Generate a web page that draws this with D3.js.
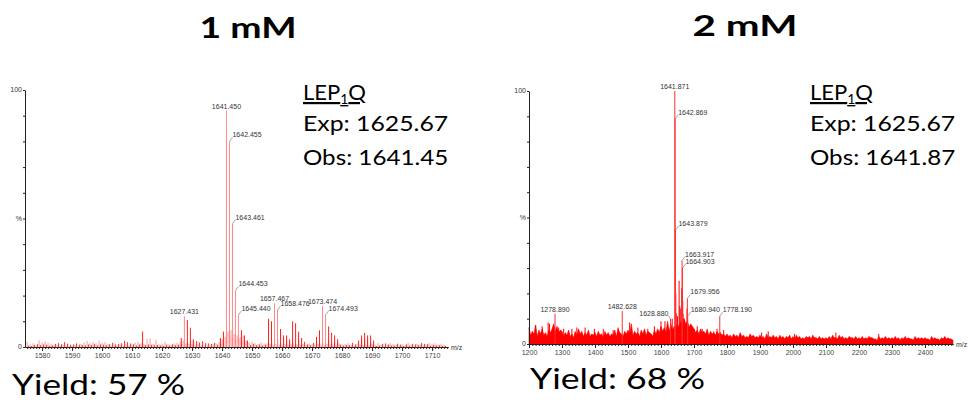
<!DOCTYPE html>
<html>
<head>
<meta charset="utf-8">
<script src="https://cdn.jsdelivr.net/npm/d3@7"></script>
<style>
  body { margin: 0; background: #fff; }
  .tick text { font-family: "Liberation Sans", Arial, sans-serif; font-size: 7px; fill: #444; }
  .axis path, .axis line { stroke: #222; }
  .plabel { font-family: "Liberation Sans", Arial, sans-serif; font-size: 7px; fill: #333; }
  .big { font-family: Lato, "Open Sans", sans-serif; fill: #000; }
</style>
</head>
<body>
<div id="chart"></div>
<script>
// ---- left spectrum (1 mM) ----
const ticksL = [1580, 1590, 1600, 1610, 1620, 1630, 1640, 1650, 1660, 1670, 1680, 1690, 1700, 1710];
const noiseStartL = 1575, noiseStepL = 0.5;
const noiseL = [
  2.0,0.5,1.0,0.4,1.4,0.8,0.5,1.1,2.6,0.7,1.8,1.0,2.2,0.9,1.7,0.5,1.3,0.6,0.9,1.2,
  0.7,1.5,0.4,1.1,0.8,1.9,0.5,1.3,0.3,0.9,0.6,1.0,0.8,1.4,0.4,0.9,1.2,0.7,1.8,0.6,
  2.3,1.0,1.5,0.8,2.0,1.1,1.4,0.6,2.5,1.0,1.7,0.9,1.9,0.7,1.3,1.1,0.5,1.6,0.8,1.0,
  0.6,1.2,0.9,1.5,0.5,2.4,1.0,1.9,0.7,1.4,0.9,1.1,1.7,0.6,2.1,1.0,1.5,1.3,1.0,0.8,
  3.2,1.0,3.4,0.9,1.2,0.7,2.8,0.8,1.0,0.6,1.3,0.5,2.0,0.9,1.1,0.6,0.8,1.0,1.4,0.7,
  1.6,0.9,2.2,1.1,2.5,1.0,1.4,2.0,1.2,2.6,1.0,2.4,0.9,2.3,1.1,1.8,0.8,2.2,0.7,1.5,
  0.8,1.4,0.6,1.2,1.0,1.6,1.3,0.9,2.0,1.1,3.0,1.5,4.0,5.5,6.0,4.5,6.5,3.5,5.0,3.0,
  4.5,3.0,3.8,2.5,4.2,1.5,2.5,1.0,1.8,0.8,2.0,1.2,1.5,0.7,1.2,1.0,1.8,0.6,1.4,0.9,
  1.5,2.0,1.2,2.6,0.9,2.2,1.1,2.8,1.0,1.6,0.8,3.0,1.2,2.4,0.9,1.8,1.1,2.0,0.7,1.2,
  1.0,2.5,0.9,1.4,1.2,2.0,0.8,1.0,1.4,0.7,1.1,1.6,0.9,2.2,1.2,1.8,1.0,2.0,0.8,1.5,
  1.2,2.6,1.0,1.8,0.9,2.0,0.7,1.5,1.3,0.9,1.0,0.6,1.2,0.8,1.5,0.7,0.9,1.6,0.5,1.0,
  1.3,2.5,1.0,3.0,0.8,2.8,0.9,2.6,0.7,2.0,1.2,0.5,0.8,0.4,1.5,0.6,0.9,1.2,0.5,1.4,
  0.8,1.0,1.4,0.6,1.2,0.5,1.0,1.3,0.6,0.9,1.1,0.4,0.8,1.0,1.6,0.5,0.9,1.2,0.6,1.0,
  1.3,0.7,1.0,1.5,0.6,1.2,0.9,1.1,1.6,0.5,1.2,0.8,1.4,0.6,1.0,0.7,1.3,0.5,0.9,0.4
];
const clusterL = [
  [1613.5,6],[1626.4,3.5],[1628.43,10.5],[1629.43,7.5],[1630.4,3],[1639.45,3.5],[1640.45,6],
  [1646.45,6.5],[1647.45,4.5],[1648.45,2.5],[1655.47,11],[1656.47,10],[1659.48,7],[1660.48,4.5],
  [1661.5,4.5],[1662.5,3],[1663.5,10],[1664.5,9.3],[1665.5,6],[1666.5,3.5],[1671.47,4],[1672.47,6.5],
  [1675.5,8],[1676.5,5.5],[1677.5,4.5],[1678.5,3],[1686.5,4.5],[1687.5,5.5],[1688.5,4.5],[1689.5,4.5],[1690.5,2.5]
];
const labelsL = ["1627.431","1641.450","1642.455","1643.461","1644.453","1645.440","1657.467","1658.476","1673.474","1674.493"];
const pctL    = [12, 92, 80, 48, 22, 12.5, 17, 14.4, 16, 12.5];
const textL = ["Exp: 1625.67", "Obs: 1641.45"];

// ---- right spectrum (2 mM) ----
const ticksR = [1200, 1300, 1400, 1500, 1600, 1700, 1800, 1900, 2000, 2100, 2200, 2300, 2400];
const noiseStartR = 1200, noiseStepR = 5;
const noiseR = [
  6.5,3.5,5,4,7.5,3,5.5,4,6,3.5,4.5,3,5.5,4.5,6,8,5,7,4.5,5.5,
  5,3,4.5,3.5,5.5,3,4,2.5,5,3.5,6,4,5,3,4.5,3.5,5.5,3,4,3.5,
  4.5,3,5,3.5,4,2.5,5,3.5,4.5,3,4,3.5,5.5,3,6,4.5,4,3,5,4,
  5.5,4,8,3.5,5,4,4.5,3,5.5,4,6,3.5,5,4.5,4,3,5.5,4,6,4.5,
  7,5,6.5,4.5,9,5,8,5.5,7,6,8,6.5,9,7,10,8,9,6.5,8,7,
  6,4.5,5.5,4,6,4.5,5,4,5.5,3.5,5,4,4.5,3.5,5,4,4.5,3.5,4,3,
  4,3,3.5,2.5,4,3,3.5,2.5,4.5,3,3.5,2.5,3,2.5,4,3,3.5,2.5,3,2.5,
  3.5,2.5,3,2,4,2.5,3,2.5,3.5,2.5,3,2,3.5,2.5,3,2,3,2.5,3.5,2,
  3,2,3.5,2.5,3,2,2.5,2,3,2.5,3,2,3.5,2.5,2.5,2,3,2,2.5,2,
  2.5,2,3,2,3.5,2.5,2.5,2,3.5,2.5,3,2,2.5,2,3,2.5,2.5,2,3,2,
  2.5,2,3,2,2.5,2,3,2.5,2.5,2,2,1.5,3,2,2.5,2,3,2,2.5,2,
  2.5,2,3,2,2.5,1.5,2.5,2,3,2,2.5,2,2,1.5,3,2,2.5,2,2.5,2,
  2.5,2,2,1.5,3,2,2.5,2,2,1.5,2.5,2,3,2,2.5,2,2,1.5
];
const spikesR = [
  [1220,7.5],[1240,7],[1258,8.5],[1262,8],[1290,6.5],[1305,6],[1330,6],[1345,6.5],[1370,6.5],
  [1398,6],[1425,6],[1455,5.5],[1470,6.5],[1505,8.5],[1530,6.5],[1560,6],[1580,7],[1600,9],
  [1612,9],[1620,7],[1634,10],[1644.88,20],[1645.9,12],[1650,11],[1654.9,25],[1657,15],[1660,14],
  [1662.9,22],[1665.9,17],[1666.9,12],[1670,10],[1678.9,14],[1681.9,8],[1684,7],[1690,6.5],
  [1700,6],[1710,7],[1725,6],[1740,6],[1760,5],[1770,6],[1790,5.5],[1905,4.5],[1925,5],
  [2005,4],[2130,4.5],[2260,4]
];
const labelsR = ["1278.890","1482.628","1628.880","1641.871","1642.869","1643.879","1663.917","1664.903","1679.956","1680.940","1778.190"];
const pctR    = [12, 13, 10, 100, 89, 45, 33, 30, 18, 11, 11];
const textR = ["Exp: 1625.67", "Obs: 1641.87"];

const W = 968, H = 403;
const svg = d3.select('#chart').append('svg').attr('width', W).attr('height', H);

// label placement (presentation only)
const topLabels = new Set(["1627.431","1641.450","1657.467","1673.474","1278.890","1482.628","1641.871"]);
const leftLabels = new Set(["1628.880"]);

function spectrum(cfg) {
  const x = d3.scaleLinear().domain(cfg.xDomain).range(cfg.xRange);
  const y = d3.scaleLinear().domain([0, 100]).range(cfg.yRange);
  const g = svg.append('g');
  const base = y(0);

  // noise
  const noisePts = cfg.noise.map((v, i) => [cfg.noiseStart + i * cfg.noiseStep, v]);
  if (cfg.noiseArea) {
    g.append('path')
      .datum(noisePts)
      .attr('fill', '#ff0000')
      .attr('stroke', '#ff0000')
      .attr('stroke-width', 0.6)
      .attr('d', d3.area().x(d => x(d[0])).y0(base).y1(d => y(d[1])));
  } else {
    g.selectAll('line.noise').data(noisePts).enter().append('line')
      .attr('class', 'noise')
      .attr('x1', d => x(d[0])).attr('x2', d => x(d[0]))
      .attr('y1', base).attr('y2', d => y(d[1]))
      .attr('stroke', (d, i) => i % 2 ? '#ff2a2a' : '#ff9a9a')
      .attr('stroke-width', 1);
  }

  // unlabeled peaks
  g.selectAll('line.extra').data(cfg.extra).enter().append('line')
    .attr('class', 'extra')
    .attr('x1', d => x(d[0])).attr('x2', d => x(d[0]))
    .attr('y1', base).attr('y2', d => y(d[1]))
    .attr('stroke', cfg.peakColor).attr('stroke-width', 1);

  // labeled peaks
  const lab = cfg.labels.map((l, i) => ({ l, mz: +l, pct: cfg.pct[i] }));
  g.selectAll('line.main').data(lab).enter().append('line')
    .attr('class', 'main')
    .attr('x1', d => x(d.mz)).attr('x2', d => x(d.mz))
    .attr('y1', base).attr('y2', d => y(d.pct))
    .attr('stroke', cfg.mainColor).attr('stroke-width', 1);

  lab.forEach(d => {
    const px = x(d.mz), py = y(d.pct);
    if (topLabels.has(d.l)) {
      g.append('text').attr('class', 'plabel')
        .attr('x', px).attr('y', py - 2).attr('text-anchor', 'middle').text(d.l);
    } else if (leftLabels.has(d.l)) {
      g.append('line').attr('x1', px).attr('y1', py).attr('x2', px - 2).attr('y2', py - 3)
        .attr('stroke', '#666').attr('stroke-width', 0.6);
      g.append('text').attr('class', 'plabel')
        .attr('x', px - 2).attr('y', py - 3).attr('text-anchor', 'end').text(d.l);
    } else {
      g.append('line').attr('x1', px).attr('y1', py).attr('x2', px + 3).attr('y2', py - 4)
        .attr('stroke', '#666').attr('stroke-width', 0.6);
      g.append('text').attr('class', 'plabel')
        .attr('x', px + 3).attr('y', py - 4).text(d.l);
    }
  });

  // x axis: minor + major
  g.append('g').attr('class', 'axis').attr('transform', `translate(0,${base})`)
    .call(d3.axisBottom(x).tickValues(cfg.minor).tickSize(2).tickSizeOuter(0).tickFormat(''));
  g.append('g').attr('class', 'axis').attr('transform', `translate(0,${base})`)
    .call(d3.axisBottom(x).tickValues(cfg.ticks).tickSize(4).tickSizeOuter(0).tickPadding(2).tickFormat(d3.format('d')));
  g.append('text').attr('class', 'plabel').attr('x', cfg.xRange[1] + 3).attr('y', base + 3).text('m/z');

  // y axis
  g.append('g').attr('class', 'axis').attr('transform', `translate(${cfg.xRange[0]},0)`)
    .call(d3.axisLeft(y).tickValues(d3.range(0, 101, 10)).tickSize(2).tickSizeOuter(0).tickFormat(''));
  [[100, '100'], [50, '%'], [0, '0']].forEach(([v, t]) => {
    g.append('text').attr('class', 'plabel')
      .attr('x', cfg.xRange[0] - 3).attr('y', y(v)).attr('dy', '0.35em')
      .attr('text-anchor', 'end').text(t);
  });
}

spectrum({
  xDomain: [1574.3, 1715.3], xRange: [25, 448], yRange: [347, 90],
  noise: noiseL, noiseStart: noiseStartL, noiseStep: noiseStepL, noiseArea: false,
  extra: clusterL, labels: labelsL, pct: pctL, ticks: ticksL,
  minor: d3.range(1575, 1716, 1), peakColor: '#ff2020', mainColor: '#ff8888'
});
spectrum({
  xDomain: [1200, 2485], xRange: [529, 953], yRange: [344, 91],
  noise: noiseR, noiseStart: noiseStartR, noiseStep: noiseStepR, noiseArea: true,
  extra: spikesR, labels: labelsR, pct: pctR, ticks: ticksR,
  minor: d3.range(1200, 2481, 10), peakColor: '#ff0000', mainColor: '#ff3030'
});

// titles and annotations
function bigText(x, y, size, weight, len, anchor, txt) {
  return svg.append('text').attr('class', 'big')
    .attr('x', x).attr('y', y).attr('font-size', size).attr('font-weight', weight)
    .attr('text-anchor', anchor).attr('textLength', len).attr('lengthAdjust', 'spacingAndGlyphs')
    .text(txt);
}
bigText(248, 38, 28, 700, 97, 'middle', '1 mM');
bigText(745, 36, 28, 700, 105, 'middle', '2 mM');

function info(x, lines) {
  const t = svg.append('text').attr('class', 'big').attr('x', x).attr('y', 100)
    .attr('font-size', 22).style('text-decoration', 'underline');
  t.append('tspan').text('LEP');
  t.append('tspan').attr('dy', 4).attr('font-size', 14).text('1');
  t.append('tspan').attr('dy', -4).text('Q');
  lines.forEach((s, i) => bigText(x, 131 + i * 34, 22, 400, s.length * 12.1, 'start', s));
}
info(303, textL);
info(810, textR);

bigText(12, 395, 28, 400, 173, 'start', 'Yield: 57 %');
bigText(530, 389, 28, 400, 175, 'start', 'Yield: 68 %');
</script>
</body>
</html>
